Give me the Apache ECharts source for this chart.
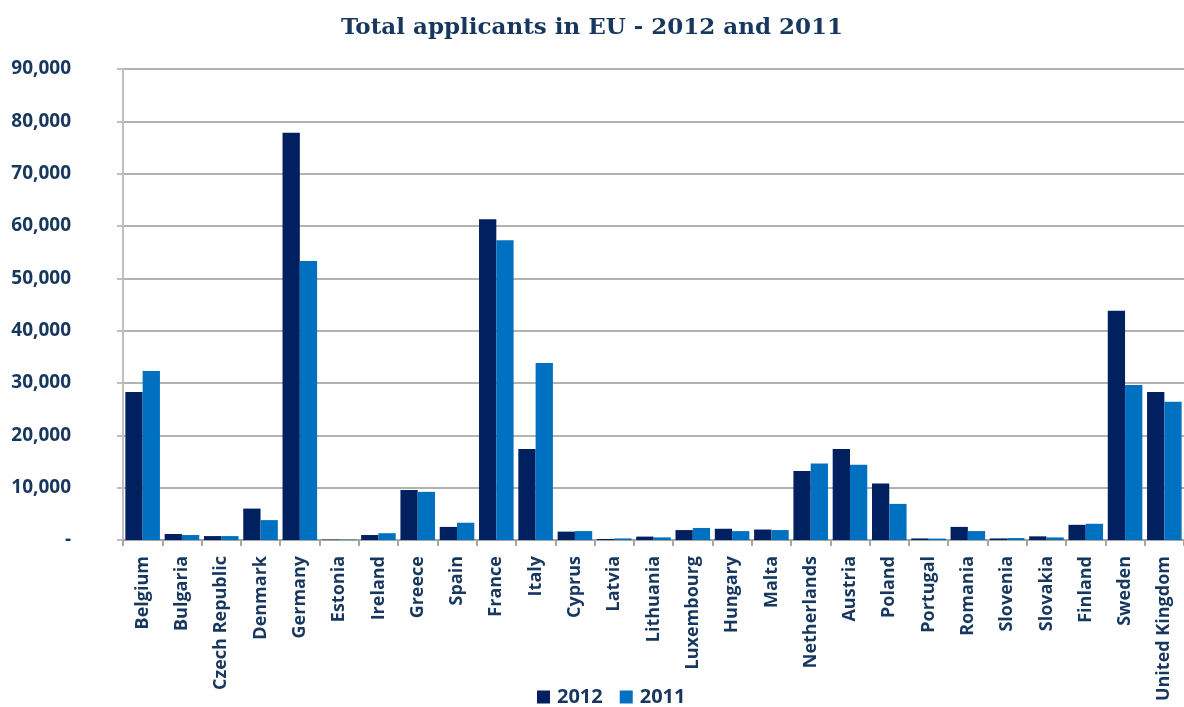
<!DOCTYPE html>
<html>
<head>
<meta charset="utf-8">
<script src="https://cdn.jsdelivr.net/npm/echarts@6/dist/echarts.min.js"></script>
<style>
html,body{margin:0;padding:0;background:#fff;}
#bar{width:1184px;height:707px;}
</style>
</head>
<body>
<div id="bar"></div>
<script>
var countries = ['Belgium','Bulgaria','Czech Republic','Denmark','Germany','Estonia','Ireland','Greece','Spain','France',
	'Italy','Cyprus','Latvia','Lithuania','Luxembourg','Hungary','Malta','Netherlands','Austria','Poland',
	'Portugal','Romania','Slovenia','Slovakia','Finland','Sweden','United Kingdom'];
var v2012 = [28300,1150,750,6000,77800,75,950,9550,2500,61300,
	17400,1600,200,650,1900,2150,2000,13200,17400,10800,
	300,2500,300,700,2900,43800,28300];
var v2011 = [32300,950,750,3800,53300,65,1300,9200,3300,57300,
	33800,1700,300,500,2300,1700,1900,14600,14400,6900,
	275,1700,370,490,3100,29600,26400];
var yTicks = [0,10000,20000,30000,40000,50000,60000,70000,80000,90000];

var txt = '#17375E';
var myChart_1 = echarts.init(document.getElementById('bar'));
var option = {
	color: ['#002060','#0070C0'],
	title: {
		text: 'Total applicants in EU - 2012 and 2011',
		left: 'center',
		top: 12,
		textStyle: {fontFamily:'DejaVu Serif',fontWeight:'bold',fontSize:23,color:txt}
	},
	legend: {
		bottom: -5,
		left: 532,
		itemWidth: 13,
		itemHeight: 13,
		itemGap: 17,
		icon: 'rect',
		textStyle: {fontFamily:'Open Sans',fontWeight:'bold',fontSize:20,color:txt,padding:[0,0,0,2]},
		data: ['2012','2011']
	},
	grid: {left: 123, top: 69, width: 1072, height: 471},
	xAxis: {
		type: 'category',
		data: countries,
		axisLine: {lineStyle:{color:'#a6a6a6',width:2}},
		axisTick: {show:true,length:6,lineStyle:{color:'#a6a6a6',width:2}},
		axisLabel: {
			interval: 0,
			rotate: 90,
			margin: 16,
			fontFamily: 'Open Sans',
			fontWeight: 'bold',
			fontSize: 18,
			color: txt
		}
	},
	yAxis: {
		type: 'value',
		min: 0,
		max: 90000,
		interval: 10000,
		axisLine: {show:true,lineStyle:{color:'#bfbfbf',width:2}},
		axisTick: {show:true,length:6,inside:false,lineStyle:{color:'#bfbfbf',width:2}},
		splitLine: {lineStyle:{color:'#b3b3b3',width:2}},
		axisLabel: {
			margin: 52,
			fontFamily: 'Open Sans',
			fontWeight: 'bold',
			fontSize: 19,
			color: txt,
			formatter: function (v) {
				if (yTicks.indexOf(v) < 0) return '';
				return v === 0 ? '-' : v.toLocaleString('en-US');
			}
		}
	},
	series: [
		{name:'2012',type:'bar',data:v2012,barGap:'0%',barCategoryGap:'12%'},
		{name:'2011',type:'bar',data:v2011,barGap:'0%',barCategoryGap:'12%'}
	]
};
myChart_1.setOption(option);
</script>
</body>
</html>
